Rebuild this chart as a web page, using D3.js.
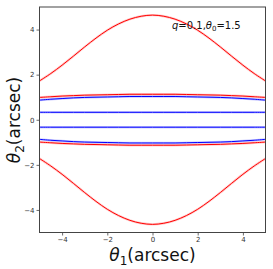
<!DOCTYPE html>
<html>
<head>
<meta charset="utf-8">
<script src="https://cdn.jsdelivr.net/npm/d3@7"></script>
<style>
  body { margin: 0; background: #fff; }
  svg { display: block; font-family: "DejaVu Sans", sans-serif; }
</style>
</head>
<body>
<div id="chart"></div>
<script>
// theta_1 samples (arcsec)
var theta1 = [-5, -4.5, -4, -3.5, -3, -2.5, -2, -1.5, -1, -0.5, 0, 0.5, 1, 1.5, 2, 2.5, 3, 3.5, 4, 4.5, 5];

// red curves (outer and inner)
var redOuterTop = [1.72, 2.05, 2.42, 2.82, 3.23, 3.62, 3.97, 4.25, 4.46, 4.59, 4.64, 4.59, 4.46, 4.25, 3.97, 3.62, 3.23, 2.82, 2.42, 2.05, 1.72];
var redOuterBot = [-1.72, -2.05, -2.42, -2.82, -3.23, -3.62, -3.97, -4.25, -4.46, -4.59, -4.64, -4.59, -4.46, -4.25, -3.97, -3.62, -3.23, -2.82, -2.42, -2.05, -1.72];
var redInnerTop = [0.99, 1.02, 1.05, 1.07, 1.09, 1.1, 1.11, 1.12, 1.13, 1.13, 1.13, 1.13, 1.13, 1.12, 1.11, 1.1, 1.09, 1.07, 1.05, 1.02, 0.99];
var redInnerBot = [-0.99, -1.02, -1.05, -1.07, -1.09, -1.1, -1.11, -1.12, -1.13, -1.13, -1.13, -1.13, -1.13, -1.12, -1.11, -1.1, -1.09, -1.07, -1.05, -1.02, -0.99];

// blue curves
var blueOuterTop = [0.87, 0.91, 0.94, 0.97, 0.99, 1.0, 1.01, 1.02, 1.03, 1.03, 1.03, 1.03, 1.03, 1.02, 1.01, 1.0, 0.99, 0.97, 0.94, 0.91, 0.87];
var blueOuterBot = [-0.87, -0.91, -0.94, -0.97, -0.99, -1.0, -1.01, -1.02, -1.03, -1.03, -1.03, -1.03, -1.03, -1.02, -1.01, -1.0, -0.99, -0.97, -0.94, -0.91, -0.87];
var blueInnerTop = [0.33, 0.33, 0.33, 0.33, 0.33, 0.33, 0.33, 0.33, 0.33, 0.33, 0.33, 0.33, 0.33, 0.33, 0.33, 0.33, 0.33, 0.33, 0.33, 0.33, 0.33];
var blueInnerBot = [-0.33, -0.33, -0.33, -0.33, -0.33, -0.33, -0.33, -0.33, -0.33, -0.33, -0.33, -0.33, -0.33, -0.33, -0.33, -0.33, -0.33, -0.33, -0.33, -0.33, -0.33];

var xTicks = [-4, -2, 0, 2, 4];
var yTicks = [-4, -2, 0, 2, 4];

var w = 273;
var h = 269;

var x = d3.scaleLinear().domain([-5, 5]).range([39.5, 265.5]);
var y = d3.scaleLinear().domain([-5, 5]).range([232.5, 7]);

var svg = d3.select('#chart')
    .append('svg')
    .attr('width', w)
    .attr('height', h);

svg.append('defs').append('clipPath').attr('id', 'clip')
    .append('rect')
    .attr('x', 39.5).attr('y', 7)
    .attr('width', 226).attr('height', 225.5);

var line = d3.line()
    .x(function(d) { return x(d[0]); })
    .y(function(d) { return y(d[1]); })
    .curve(d3.curveCatmullRom);

var curves = [
    {ys: redOuterTop, color: 'red'},
    {ys: redOuterBot, color: 'red'},
    {ys: redInnerTop, color: 'red'},
    {ys: redInnerBot, color: 'red'},
    {ys: blueOuterTop, color: 'blue'},
    {ys: blueOuterBot, color: 'blue'},
    {ys: blueInnerTop, color: 'blue'},
    {ys: blueInnerBot, color: 'blue'}
];

var g = svg.append('g').attr('clip-path', 'url(#clip)');

// faint halo under each curve
g.selectAll('path.halo')
    .data(curves)
    .enter()
    .append('path')
    .attr('class', 'halo')
    .attr('d', function(c) { return line(theta1.map(function(t, i) { return [t, c.ys[i]]; })); })
    .attr('fill', 'none')
    .attr('stroke', function(c) { return c.color; })
    .attr('stroke-opacity', 0.2)
    .attr('stroke-width', 2.4);

g.selectAll('path.curve')
    .data(curves)
    .enter()
    .append('path')
    .attr('class', 'curve')
    .attr('d', function(c) { return line(theta1.map(function(t, i) { return [t, c.ys[i]]; })); })
    .attr('fill', 'none')
    .attr('stroke', function(c) { return c.color; })
    .attr('stroke-width', 1);

// axes
var xAxis = d3.axisBottom(x).tickValues(xTicks).tickSize(3).tickPadding(2)
    .tickFormat(function(d) { return d < 0 ? '\u2212' + Math.abs(d) : d; });
var yAxis = d3.axisLeft(y).tickValues(yTicks).tickSize(3).tickPadding(2)
    .tickFormat(function(d) { return d < 0 ? '\u2212' + Math.abs(d) : d; });

var gx = svg.append('g').attr('transform', 'translate(0,232.5)').call(xAxis);
var gy = svg.append('g').attr('transform', 'translate(39.5,0)').call(yAxis);

[gx, gy].forEach(function(a) {
    a.select('.domain').remove();
    a.selectAll('line').attr('stroke', '#444').attr('stroke-width', 0.8);
    a.selectAll('text').attr('fill', '#333').style('font-size', '7px').style('font-family', '"DejaVu Sans", sans-serif');
});

// frame
svg.append('rect')
    .attr('x', 39.5).attr('y', 7)
    .attr('width', 226).attr('height', 225.5)
    .attr('fill', 'none')
    .attr('stroke', '#444')
    .attr('stroke-width', 1);

// axis labels
var xl = svg.append('text')
    .attr('x', 152.5).attr('y', 261)
    .attr('text-anchor', 'middle')
    .attr('fill', '#111')
    .style('font-size', '17px');
xl.append('tspan').style('font-style', 'italic').text('\u03b8');
xl.append('tspan').attr('dy', 4).style('font-size', '12px').text('1');
xl.append('tspan').attr('dy', -4).text('(arcsec)');

var yl = svg.append('text')
    .attr('transform', 'translate(20,120) rotate(-90)')
    .attr('text-anchor', 'middle')
    .attr('fill', '#111')
    .style('font-size', '17px');
yl.append('tspan').style('font-style', 'italic').text('\u03b8');
yl.append('tspan').attr('dy', 4).style('font-size', '12px').text('2');
yl.append('tspan').attr('dy', -4).text('(arcsec)');

// annotation
var ann = svg.append('text')
    .attr('x', 172).attr('y', 29)
    .attr('fill', '#111')
    .style('font-size', '10px');
ann.append('tspan').style('font-style', 'italic').text('q');
ann.append('tspan').text('=0.1,');
ann.append('tspan').style('font-style', 'italic').text('\u03b8');
ann.append('tspan').attr('dy', 2).style('font-size', '7px').text('0');
ann.append('tspan').attr('dy', -2).text('=1.5');
</script>
</body>
</html>
